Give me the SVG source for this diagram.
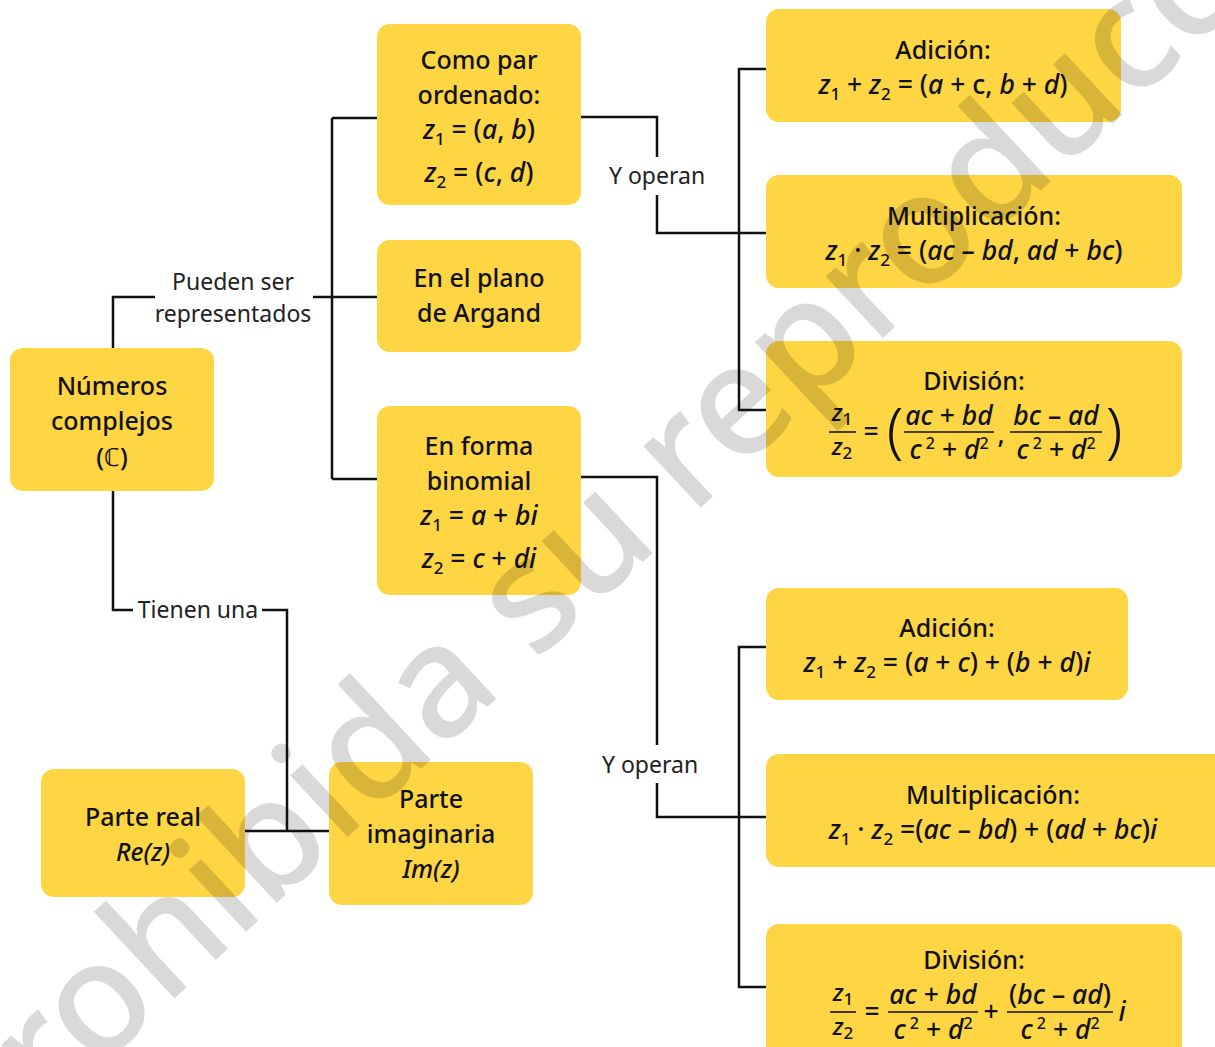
<svg xmlns="http://www.w3.org/2000/svg" width="1215" height="1047" viewBox="0 0 1215 1047">
<style>
.box{fill:#FED543}
.t{font-family:"Noto Sans","Open Sans","Liberation Sans",sans-serif;font-size:25px;font-weight:500;fill:#111;text-anchor:middle}
.m{font-size:26.5px}
.f{font-size:24px}
.lbl{font-family:"Noto Sans","Open Sans","Liberation Sans",sans-serif;font-size:23px;font-weight:400;fill:#222;text-anchor:middle}
.i{font-style:italic}
.sub{font-size:17px}
.sup{font-size:16px}
.bar{stroke:#111;stroke-width:1.6}
.conn path{fill:none;stroke:#111;stroke-width:2.5}
.par{font-family:"Noto Sans","Open Sans","Liberation Sans",sans-serif;font-size:60px;font-weight:300;fill:#111;text-anchor:middle}
.wm{font-family:"Noto Sans","DejaVu Sans",sans-serif;font-size:156px;font-weight:500;fill:#000;fill-opacity:0.15}
</style>

<g class="conn" id="connectors">
  <path d="M113 348 V297 H155"/>
  <path d="M313 297 H377"/>
  <path d="M332 118 V479"/>
  <path d="M332 118 H377"/>
  <path d="M332 479 H377"/>
  <path d="M113 491 V610 H133"/>
  <path d="M262 610 H287 V831"/>
  <path d="M245 831 H329"/>
  <path d="M581 117 H657 V157"/>
  <path d="M657 195 V233 H766"/>
  <path d="M766 69 H739 V410 H766"/>
  <path d="M581 477 H657 V745"/>
  <path d="M657 783 V817 H766"/>
  <path d="M766 647 H739 V987 H766"/>
  <text class="lbl" x="233" y="290">Pueden ser</text>
  <text class="lbl" x="233" y="322">representados</text>
  <text class="lbl" x="198" y="618">Tienen una</text>
  <text class="lbl" x="657" y="184">Y operan</text>
  <text class="lbl" x="650" y="773">Y operan</text>
</g>

<g id="numeros">
  <rect class="box" x="10" y="348" width="204" height="143" rx="13"/>
  <text class="t" x="112" y="395">Números</text>
  <text class="t" x="112" y="430">complejos</text>
  <text class="t" x="112" y="466">(ℂ)</text>
</g>

<g id="par-ordenado">
  <rect class="box" x="377" y="24" width="204" height="181" rx="13"/>
  <text class="t" x="479" y="69">Como par</text>
  <text class="t" x="479" y="104">ordenado:</text>
  <text class="t m" x="479" y="139"><tspan class="i">z</tspan><tspan class="sub" dy="6">1</tspan><tspan dy="-6"> = (</tspan><tspan class="i">a</tspan>, <tspan class="i">b</tspan>)</text>
  <text class="t m" x="479" y="182"><tspan class="i">z</tspan><tspan class="sub" dy="6">2</tspan><tspan dy="-6"> = (</tspan><tspan class="i">c</tspan>, <tspan class="i">d</tspan>)</text>
</g>

<g id="argand">
  <rect class="box" x="377" y="240" width="204" height="112" rx="13"/>
  <text class="t" x="479" y="287">En el plano</text>
  <text class="t" x="479" y="322">de Argand</text>
</g>

<g id="binomial">
  <rect class="box" x="377" y="406" width="204" height="189" rx="13"/>
  <text class="t" x="479" y="455">En forma</text>
  <text class="t" x="479" y="490">binomial</text>
  <text class="t m" x="479" y="525"><tspan class="i">z</tspan><tspan class="sub" dy="6">1</tspan><tspan dy="-6"> = </tspan><tspan class="i">a</tspan> + <tspan class="i">bi</tspan></text>
  <text class="t m" x="479" y="568"><tspan class="i">z</tspan><tspan class="sub" dy="6">2</tspan><tspan dy="-6"> = </tspan><tspan class="i">c</tspan> + <tspan class="i">di</tspan></text>
</g>

<g id="parte-real">
  <rect class="box" x="41" y="769" width="204" height="128" rx="13"/>
  <text class="t" x="143" y="826">Parte real</text>
  <text class="t i" x="143" y="861">Re(z)</text>
</g>

<g id="parte-imaginaria">
  <rect class="box" x="329" y="762" width="204" height="143" rx="13"/>
  <text class="t" x="431" y="808">Parte</text>
  <text class="t" x="431" y="843">imaginaria</text>
  <text class="t i" x="431" y="878">Im(z)</text>
</g>

<g id="adicion-par">
  <rect class="box" x="766" y="9" width="355" height="113" rx="13"/>
  <text class="t" x="943" y="59">Adición:</text>
  <text class="t m" x="943" y="94"><tspan class="i">z</tspan><tspan class="sub" dy="6">1</tspan><tspan dy="-6"> + </tspan><tspan class="i">z</tspan><tspan class="sub" dy="6">2</tspan><tspan dy="-6"> = (</tspan><tspan class="i">a</tspan> + c, <tspan class="i">b</tspan> + <tspan class="i">d</tspan>)</text>
</g>

<g id="multiplicacion-par">
  <rect class="box" x="766" y="175" width="416" height="113" rx="13"/>
  <text class="t" x="974" y="225">Multiplicación:</text>
  <text class="t m" x="974" y="260"><tspan class="i">z</tspan><tspan class="sub" dy="6">1</tspan><tspan dy="-6"> · </tspan><tspan class="i">z</tspan><tspan class="sub" dy="6">2</tspan><tspan dy="-6"> = (</tspan><tspan class="i">ac</tspan> – <tspan class="i">bd</tspan>, <tspan class="i">ad</tspan> + <tspan class="i">bc</tspan>)</text>
</g>

<g id="division-par">
  <rect class="box" x="766" y="341" width="416" height="136" rx="13"/>
  <text class="t" x="974" y="390">División:</text>
  <text class="t f" x="842" y="421"><tspan class="i">z</tspan><tspan class="sub" dy="4">1</tspan></text>
  <line class="bar" x1="829" y1="432" x2="856" y2="432"/>
  <text class="t f" x="842" y="455"><tspan class="i">z</tspan><tspan class="sub" dy="4">2</tspan></text>
  <text class="t m" x="871" y="441">=</text>
  <text class="par" x="895" y="451">(</text>
  <text class="t m" x="949" y="425"><tspan class="i">ac</tspan> + <tspan class="i">bd</tspan></text>
  <line class="bar" x1="904" y1="432" x2="994" y2="432"/>
  <text class="t m" x="949" y="459"><tspan class="i">c</tspan><tspan class="sup" dy="-10"> 2</tspan><tspan dy="10"> + </tspan><tspan class="i">d</tspan><tspan class="sup" dy="-10">2</tspan></text>
  <text class="t m" x="1001" y="443">,</text>
  <text class="t m" x="1056" y="425"><tspan class="i">bc</tspan> – <tspan class="i">ad</tspan></text>
  <line class="bar" x1="1010" y1="432" x2="1102" y2="432"/>
  <text class="t m" x="1056" y="459"><tspan class="i">c</tspan><tspan class="sup" dy="-10"> 2</tspan><tspan dy="10"> + </tspan><tspan class="i">d</tspan><tspan class="sup" dy="-10">2</tspan></text>
  <text class="par" x="1114" y="451">)</text>
</g>

<g id="adicion-bin">
  <rect class="box" x="766" y="588" width="362" height="112" rx="13"/>
  <text class="t" x="947" y="637">Adición:</text>
  <text class="t m" x="947" y="672"><tspan class="i">z</tspan><tspan class="sub" dy="6">1</tspan><tspan dy="-6"> + </tspan><tspan class="i">z</tspan><tspan class="sub" dy="6">2</tspan><tspan dy="-6"> = (</tspan><tspan class="i">a</tspan> + <tspan class="i">c</tspan>) + (<tspan class="i">b</tspan> + <tspan class="i">d</tspan>)<tspan class="i">i</tspan></text>
</g>

<g id="multiplicacion-bin">
  <rect class="box" x="766" y="754" width="470" height="113" rx="13"/>
  <text class="t" x="993" y="804">Multiplicación:</text>
  <text class="t m" x="993" y="839"><tspan class="i">z</tspan><tspan class="sub" dy="6">1</tspan><tspan dy="-6"> · </tspan><tspan class="i">z</tspan><tspan class="sub" dy="6">2</tspan><tspan dy="-6"> =(</tspan><tspan class="i">ac</tspan> – <tspan class="i">bd</tspan>) + (<tspan class="i">ad</tspan> + <tspan class="i">bc</tspan>)<tspan class="i">i</tspan></text>
</g>

<g id="division-bin">
  <rect class="box" x="766" y="924" width="416" height="140" rx="13"/>
  <text class="t" x="974" y="969">División:</text>
  <text class="t f" x="843" y="1001"><tspan class="i">z</tspan><tspan class="sub" dy="4">1</tspan></text>
  <line class="bar" x1="830" y1="1012" x2="856" y2="1012"/>
  <text class="t f" x="843" y="1035"><tspan class="i">z</tspan><tspan class="sub" dy="4">2</tspan></text>
  <text class="t m" x="872" y="1021">=</text>
  <text class="t m" x="933" y="1004"><tspan class="i">ac</tspan> + <tspan class="i">bd</tspan></text>
  <line class="bar" x1="888" y1="1012" x2="978" y2="1012"/>
  <text class="t m" x="933" y="1039"><tspan class="i">c</tspan><tspan class="sup" dy="-10"> 2</tspan><tspan dy="10"> + </tspan><tspan class="i">d</tspan><tspan class="sup" dy="-10">2</tspan></text>
  <text class="t m" x="991" y="1021">+</text>
  <text class="t m" x="1060" y="1004">(<tspan class="i">bc</tspan> – <tspan class="i">ad</tspan>)</text>
  <line class="bar" x1="1007" y1="1012" x2="1113" y2="1012"/>
  <text class="t m" x="1060" y="1039"><tspan class="i">c</tspan><tspan class="sup" dy="-10"> 2</tspan><tspan dy="10"> + </tspan><tspan class="i">d</tspan><tspan class="sup" dy="-10">2</tspan></text>
  <text class="t m i" x="1122" y="1021">i</text>
</g>

<text class="wm" transform="translate(-20 1180) rotate(-43)">Prohibida su reproducción</text>
</svg>
